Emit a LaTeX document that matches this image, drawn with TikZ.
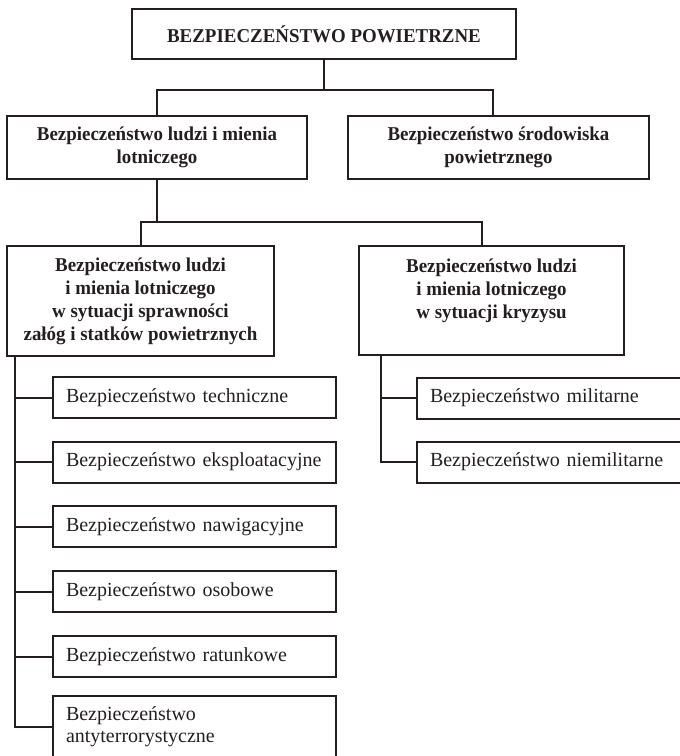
\documentclass[tikz,border=0pt]{standalone}
\usepackage{fontspec}
\setmainfont{Liberation Serif}
\newfontfamily\headfont[FakeStretch=0.965]{Liberation Serif}
\definecolor{Ink}{HTML}{231F20}

\begin{document}
\begin{tikzpicture}[x=0.5pt,y=-0.5pt,
  headbox/.style={draw=Ink,line width=1pt,align=center,inner sep=2pt,text=Ink,font=\headfont\bfseries\fontsize{9.8}{11.5}\selectfont},
  itembox/.style={draw=Ink,line width=1pt,align=left,inner xsep=6.5pt,inner ysep=2pt,text width=128.5pt,minimum height=20.5pt,text=Ink,font=\fontsize{10}{11}\selectfont},
  ritembox/.style={itembox,text width=123.5pt},
  link/.style={draw=Ink,line width=1pt}
]
\useasboundingbox (0,0) rectangle (680,756);
% upper levels
\node[headbox,minimum width=192pt,minimum height=25pt] (top) at (324,34) {BEZPIECZEŃSTWO POWIETRZNE};
\node[headbox,minimum width=150pt,minimum height=31.5pt] (ludzi) at (157,147.5) {Bezpieczeństwo ludzi i mienia\\lotniczego};
\node[headbox,minimum width=150.5pt,minimum height=31.5pt] (srod) at (498.5,147.5) {Bezpieczeństwo środowiska\\powietrznego};
\node[headbox,minimum width=133.5pt,minimum height=55pt] (spraw) at (140.5,301) {Bezpieczeństwo ludzi\\i mienia lotniczego\\w sytuacji sprawności\\załóg i statków powietrznych};
\node[headbox,minimum width=132.5pt,minimum height=54.5pt] (kryz) at (491.5,300.5) {Bezpieczeństwo ludzi\\i mienia lotniczego\\w sytuacji kryzysu\\\mbox{}};
% lists
\node[itembox] (tech) at (194.5,397.5) {Bezpieczeństwo techniczne};
\node[itembox] (eksp) at (194.5,462) {Bezpieczeństwo eksploatacyjne};
\node[itembox] (nawi) at (194.5,526.5) {Bezpieczeństwo nawigacyjne};
\node[itembox] (osob) at (194.5,591.5) {Bezpieczeństwo osobowe};
\node[itembox] (ratu) at (194.5,656.5) {Bezpieczeństwo ratunkowe};
\node[itembox,minimum height=31pt] (anty) at (194.5,727) {Bezpieczeństwo\\antyterrorystyczne};
\node[ritembox] (mili) at (553.5,398) {Bezpieczeństwo militarne};
\node[ritembox] (nmil) at (553.5,462) {Bezpieczeństwo niemilitarne};
% connectors
\draw[link] (top.south) -- ++(0,30) coordinate (t1);
\draw[link] (ludzi.north) |- (t1) -| ([xshift=-2.75pt]srod.north);
\draw[link] (ludzi.south) -- ++(0,42) coordinate (t2);
\draw[link] (spraw.north) |- (t2) -| ([xshift=-4.75pt]kryz.north);
\draw[link] ([xshift=4.5pt]spraw.south west) coordinate (t3) |- (anty.west);
\draw[link] (tech.west) -- (tech.west -| t3);
\draw[link] (eksp.west) -- (eksp.west -| t3);
\draw[link] (nawi.west) -- (nawi.west -| t3);
\draw[link] (osob.west) -- (osob.west -| t3);
\draw[link] (ratu.west) -- (ratu.west -| t3);
\draw[link] ([xshift=11.5pt]kryz.south west) coordinate (t4) |- (nmil.west);
\draw[link] (mili.west) -- (mili.west -| t4);
\end{tikzpicture}
\end{document}
